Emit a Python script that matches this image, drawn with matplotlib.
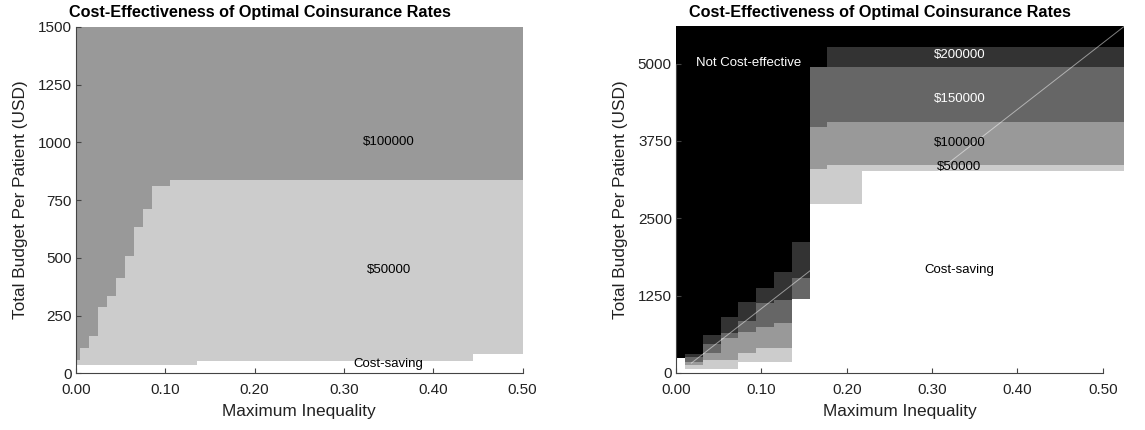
import numpy as np
import matplotlib
matplotlib.use("Agg")
import matplotlib.pyplot as plt
from matplotlib.colors import ListedColormap

plt.rcParams["font.family"] = ["Liberation Sans", "DejaVu Sans"]

# willingness-to-pay bands, from cheapest to not cost-effective
band_colors = ["white", "#cccccc", "#999999", "#666666", "#333333", "black"]

# left panel: upper edge (USD) of each band per inequality level
ineq_left = [0.00, 0.01, 0.02, 0.03, 0.04, 0.05, 0.06, 0.07, 0.08, 0.09,
             0.10, 0.11, 0.12, 0.13, 0.14, 0.15, 0.16, 0.17, 0.18, 0.19,
             0.20, 0.21, 0.22, 0.23, 0.24, 0.25, 0.26, 0.27, 0.28, 0.29,
             0.30, 0.31, 0.32, 0.33, 0.34, 0.35, 0.36, 0.37, 0.38, 0.39,
             0.40, 0.41, 0.42, 0.43, 0.44, 0.45, 0.46, 0.47, 0.48, 0.49, 0.50]
left_saving = [36, 36, 36, 36, 36, 36, 36, 36, 36, 36, 36, 36, 36, 36,
               54, 54, 54, 54, 54, 54, 54, 54, 54, 54, 54, 54, 54, 54, 54, 54,
               54, 54, 54, 54, 54, 54, 54, 54, 54, 54, 54, 54, 54, 54, 54,
               83, 83, 83, 83, 83, 83]
left_50k = [58, 109, 162, 286, 335, 412, 510, 635, 711, 812, 812,
            837, 837, 837, 837, 837, 837, 837, 837, 837, 837, 837, 837, 837,
            837, 837, 837, 837, 837, 837, 837, 837, 837, 837, 837, 837, 837,
            837, 837, 837, 837, 837, 837, 837, 837, 837, 837, 837, 837, 837, 837]
left_100k = [1500] * 51

# right panel
ineq_right = [0.000, 0.021, 0.042, 0.063, 0.083, 0.104, 0.125, 0.146, 0.167,
              0.188, 0.208, 0.229, 0.250, 0.271, 0.292, 0.313, 0.333, 0.354,
              0.375, 0.396, 0.417, 0.438, 0.458, 0.479, 0.500, 0.521]
right_saving = [240, 65, 65, 65, 173, 173, 173, 1197, 2731, 2731, 2731,
                3269, 3269, 3269, 3269, 3269, 3269, 3269, 3269, 3269, 3269,
                3269, 3269, 3269, 3269, 3269]
right_50k = [240, 129, 210, 210, 318, 399, 410, 1197, 3292, 3361, 3361,
             3361, 3361, 3361, 3361, 3361, 3361, 3361, 3361, 3361, 3361,
             3361, 3361, 3361, 3361, 3361]
right_100k = [240, 173, 318, 561, 669, 745, 800, 1197, 3971, 4061, 4061,
              4061, 4061, 4061, 4061, 4061, 4061, 4061, 4061, 4061, 4061,
              4061, 4061, 4061, 4061, 4061]
right_150k = [240, 264, 469, 642, 841, 1127, 1181, 1532, 4940, 4940, 4940,
              4940, 4940, 4940, 4940, 4940, 4940, 4940, 4940, 4940, 4940,
              4940, 4940, 4940, 4940, 4940]
right_200k = [240, 302, 615, 912, 1143, 1370, 1640, 2114, 4940, 5263, 5263,
              5263, 5263, 5263, 5263, 5263, 5263, 5263, 5263, 5263, 5263,
              5263, 5263, 5263, 5263, 5263]

# diagonal reference on the right panel
diag_x = [0.018, 0.525]
diag_y = [160, 5600]

left_labels = [("$100000", 0.35, 1000, "black"),
               ("$50000", 0.35, 448, "black"),
               ("Cost-saving", 0.35, 41, "black")]
right_labels = [("Not Cost-effective", 0.085, 5005, "white"),
                ("$200000", 0.332, 5139, "white"),
                ("$150000", 0.332, 4423, "white"),
                ("$100000", 0.332, 3712, "black"),
                ("$50000", 0.332, 3334, "black"),
                ("Cost-saving", 0.332, 1665, "black")]


def cell_edges(x):
    x = np.asarray(x, dtype=float)
    mid = (x[:-1] + x[1:]) / 2
    return np.concatenate([[x[0] - (x[1] - x[0]) / 2], mid,
                           [x[-1] + (x[-1] - x[-2]) / 2]])


def band_grid(tops, ymax, step):
    # band index for each budget row and inequality column
    y_edges = np.arange(0, ymax + step, step)
    y_mid = (y_edges[:-1] + y_edges[1:]) / 2
    tops = np.asarray(tops, dtype=float)        # (bands, columns)
    grid = (y_mid[:, None, None] > tops.T[None, :, :]).sum(axis=2)
    return y_edges, grid


def style_axes(ax, title, title_x, xmax, ymax, yticks):
    ax.set_xlim(0, xmax)
    ax.set_ylim(0, ymax)
    ax.set_xticks([0, 0.1, 0.2, 0.3, 0.4, 0.5])
    ax.set_xticklabels(["0.00", "0.10", "0.20", "0.30", "0.40", "0.50"])
    ax.set_yticks(yticks)
    ax.tick_params(direction="in", length=3.4, width=0.8, color="#444444",
                   labelsize=11, labelcolor="#222222")
    ax.tick_params(axis="x", pad=7)
    ax.tick_params(axis="y", pad=3)
    for side in ["top", "right"]:
        ax.spines[side].set_visible(False)
    for side in ["left", "bottom"]:
        ax.spines[side].set_color("#444444")
        ax.spines[side].set_linewidth(0.8)
    ax.spines["bottom"].set_bounds(0, 0.5)
    ax.spines["left"].set_bounds(yticks[0], yticks[-1])
    ax.set_xlabel("Maximum Inequality", fontsize=12.4, color="#222222", labelpad=5)
    ax.set_ylabel("Total Budget Per Patient (USD)", fontsize=12.4,
                  color="#222222", labelpad=7)
    ax.set_title(title, fontsize=11.7, fontweight="bold", x=title_x, pad=7)


cmap = ListedColormap(band_colors)
fig = plt.figure(figsize=(11.45, 4.3), dpi=100)

ax1 = fig.add_axes([0.0664, 0.1314, 0.3900, 0.8065])
y_edges, grid = band_grid([left_saving, left_50k, left_100k], 1500, 1)
ax1.pcolormesh(cell_edges(ineq_left), y_edges, grid, cmap=cmap,
               vmin=-0.5, vmax=5.5, shading="flat")
for text, x, y, c in left_labels:
    ax1.text(x, y, text, ha="center", va="center", fontsize=9.5, color=c)
style_axes(ax1, "Cost-Effectiveness of Optimal Coinsurance Rates", 0.411,
           0.5, 1500, [0, 250, 500, 750, 1000, 1250, 1500])

ax2 = fig.add_axes([0.5904, 0.1326, 0.3913, 0.8058])
y_edges, grid = band_grid([right_saving, right_50k, right_100k, right_150k,
                           right_200k], 5600, 2)
ax2.pcolormesh(cell_edges(ineq_right), y_edges, grid, cmap=cmap,
               vmin=-0.5, vmax=5.5, shading="flat")
ax2.plot(diag_x, diag_y, color="white", alpha=0.5, linewidth=0.7)
for text, x, y, c in right_labels:
    ax2.text(x, y, text, ha="center", va="center", fontsize=9.5, color=c)
style_axes(ax2, "Cost-Effectiveness of Optimal Coinsurance Rates", 0.456,
           0.525, 5600, [0, 1250, 2500, 3750, 5000])

fig.savefig("out.png", dpi=100)
